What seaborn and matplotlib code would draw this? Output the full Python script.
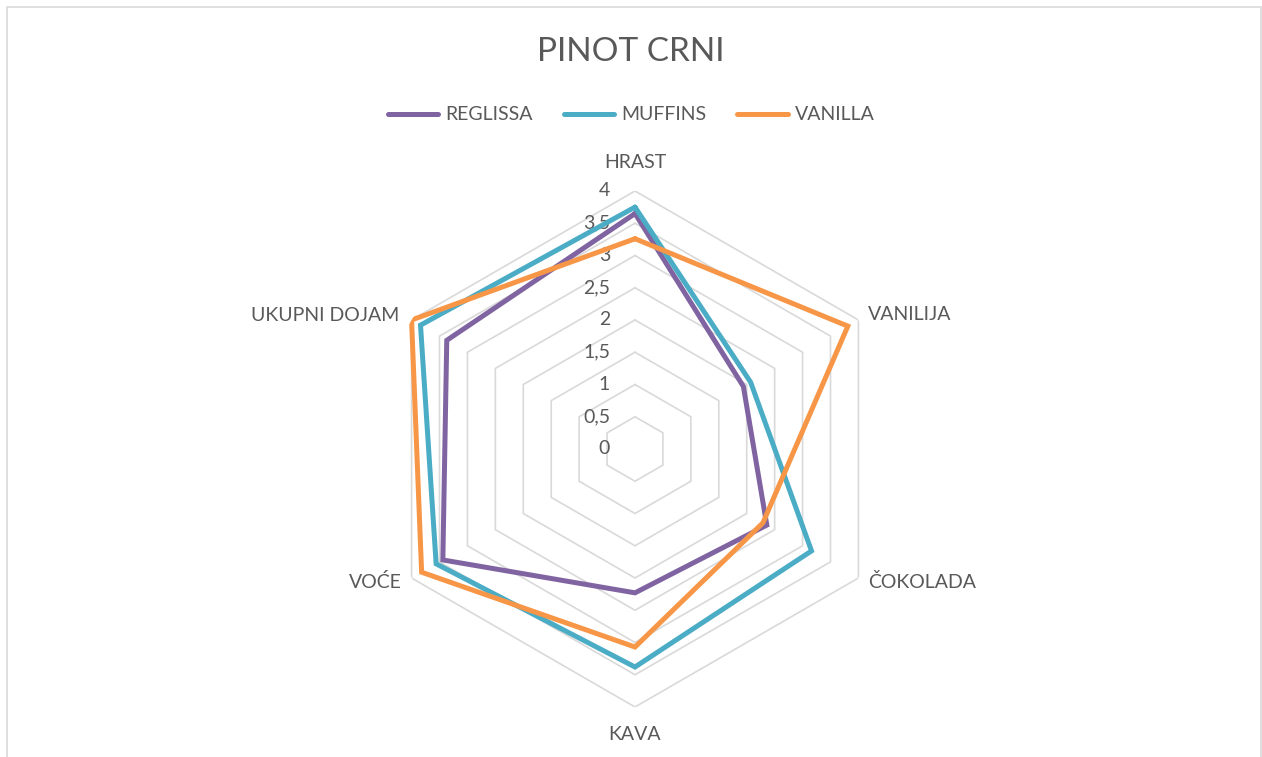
import numpy as np
import pandas as pd
import matplotlib
matplotlib.use("Agg")
import matplotlib.pyplot as plt
import matplotlib.patches as patches
from matplotlib.lines import Line2D
import seaborn as sns

# --------------------------
# Dati
# --------------------------
categories = ["HRAST", "VANILIJA", "ČOKOLADA", "KAVA", "VOĆE", "UKUPNI DOJAM"]
reglissa = [3.65, 1.94, 2.36, 2.23, 3.44, 3.37]
muffins = [3.75, 2.07, 3.16, 3.38, 3.56, 3.84]
vanilla = [3.26, 3.81, 2.29, 3.07, 3.82, 4.0]
series_names = ["REGLISSA", "MUFFINS", "VANILLA"]
colors = ["#8064A2", "#4BACC6", "#F79646"]
r_ticks = [0, 0.5, 1, 1.5, 2, 2.5, 3, 3.5, 4]
r_labels = ["0", "0,5", "1", "1,5", "2", "2,5", "3", "3,5", "4"]

text_col = "#595959"
grid_col = "#D9D9D9"

sns.set_style("white")
plt.rcParams["font.family"] = ["Lato", "DejaVu Sans"]

n = len(categories)
angles = np.linspace(0, 2 * np.pi, n, endpoint=False)

# long dataframe, closing each polygon
rows = []
for name, vals in zip(series_names, [reglissa, muffins, vanilla]):
    for i in range(n + 1):
        rows.append({"series": name, "theta": angles[i % n] if i < n else 2 * np.pi,
                     "value": vals[i % n], "order": i})
df = pd.DataFrame(rows)

fig = plt.figure(figsize=(12.62, 7.57), dpi=100)
W, H = 1262, 757
cx, cy, R = 635, 449, 258
ax = fig.add_axes([(cx - R) / W, (H - cy - R) / H, 2 * R / W, 2 * R / H], projection="polar")
ax.set_theta_offset(np.pi / 2)
ax.set_theta_direction(-1)
ax.set_ylim(0, 4)
ax.grid(False)
ax.spines["polar"].set_visible(False)
ax.set_xticks([])
ax.set_yticks([])
ax.set_facecolor("none")

# griglia esagonale
closed = np.append(angles, 2 * np.pi)
for v in r_ticks[1:]:
    ax.plot(closed, [v] * (n + 1), color=grid_col, lw=1.2, zorder=1)

sns.lineplot(data=df, x="theta", y="value", hue="series", hue_order=series_names,
             palette=colors, sort=False, estimator=None, units="series",
             linewidth=3.6, legend=False, ax=ax, zorder=3)
for line in ax.get_lines():
    line.set_solid_joinstyle("miter")
ax.set_xlabel("")
ax.set_ylabel("")

# etichette radiali
for v, lab in zip(r_ticks, r_labels):
    ax.annotate(lab, xy=(0, v), xytext=(-25, 0), textcoords="offset pixels",
                ha="right", va="center", fontsize=14, color=text_col, zorder=2)

# etichette categorie
offsets = [(0, 28, "center"), (10, 5, "left"), (10, -4, "left"),
           (0, -28, "center"), (-10, -4, "right"), (-12, 5, "right")]
for ang, cat, (dx, dy, ha) in zip(angles, categories, offsets):
    ax.annotate(cat, xy=(ang, 4), xytext=(dx, dy), textcoords="offset pixels",
                ha=ha, va="center", fontsize=14, color=text_col, annotation_clip=False)

fig.text(0.5, 1 - 52 / H, "PINOT CRNI", ha="center", va="center", fontsize=24, color=text_col)

handles = [Line2D([0], [0], color=c, lw=3.6, solid_capstyle="round") for c in colors]
leg = fig.legend(handles, series_names, loc="center", bbox_to_anchor=(0.5, 1 - 115 / H),
                 ncol=3, frameon=False, fontsize=14, handlelength=2.6,
                 handletextpad=0.35, columnspacing=1.6)
for t in leg.get_texts():
    t.set_color(text_col)

fig.patches.append(patches.Rectangle((7 / W, -0.1), (1261 - 7) / W, 1 - 7 / H + 0.1,
                                     transform=fig.transFigure, fill=False,
                                     edgecolor=grid_col, lw=1.2))

fig.savefig("out.png", dpi=100, facecolor="white")
